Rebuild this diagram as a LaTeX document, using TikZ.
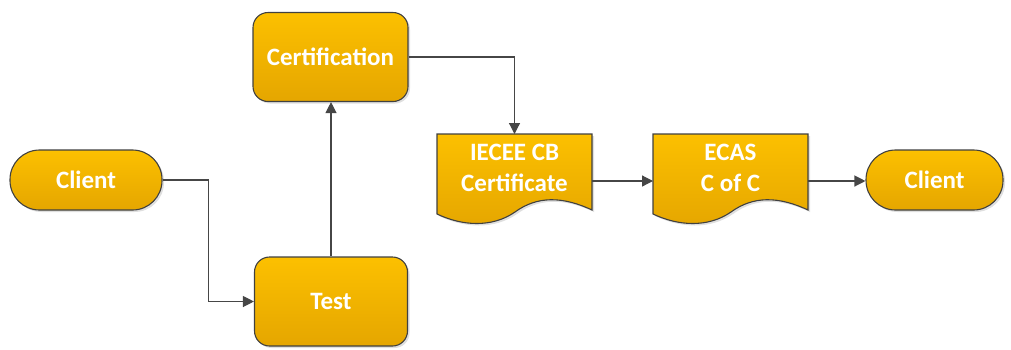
\documentclass[tikz,border=0pt]{standalone}
\usepackage{fontspec}
\setmainfont{Carlito}
\usetikzlibrary{arrows.meta,calc,shadows}
\definecolor{ytop}{RGB}{252,192,0}
\definecolor{ybot}{RGB}{229,166,0}
\definecolor{edge}{RGB}{64,64,64}
\definecolor{conn}{RGB}{70,70,70}
\tikzset{
  boxfill/.style={draw=edge,line width=1.1pt,top color=ytop,bottom color=ybot,
    drop shadow={opacity=0.25,shadow xshift=2pt,shadow yshift=-2pt}},
  txt/.style={text=white,font=\fontsize{25}{31}\selectfont\bfseries,align=center},
  procbox/.style={boxfill,txt,rectangle,rounded corners=15pt,minimum width=153pt,minimum height=89pt},
  termbox/.style={boxfill,txt,rectangle,rounded corners=29.5pt,minimum height=60pt},
  docanchor/.style={rectangle,minimum width=155pt,minimum height=94pt,inner sep=0pt,outer sep=0pt},
  arr/.style={draw=conn,line width=1.2pt,-{Triangle[length=11pt,width=11pt]}},
}
\newcommand\docpath[1]{%
  \path[boxfill] (#1.north west) -- (#1.north east) -- ($(#1.north east)+(0,76)$)
    .. controls ($(#1.north west)+(125,62)$) and ($(#1.north west)+(100,62)$) .. ($(#1.north west)+(78,78)$)
    .. controls ($(#1.north west)+(55,94)$) and ($(#1.north west)+(25,92)$) .. ($(#1.north west)+(0,80)$) -- cycle;}
\begin{document}
\begin{tikzpicture}[x=1pt,y=-1pt]
\useasboundingbox (0,0) rectangle (1011,349);
\node[termbox,minimum width=152pt] (client1) at (86,180) {Client};
\node[procbox] (test) at (331,301.5) {Test};
\node[procbox,minimum width=155pt] (cert) at (330.5,57) {Certification};
\node[docanchor] (iecee) at (514.5,181) {};
\docpath{iecee}
\node[txt] (iecee-t) at (514.5,168) {IECEE CB\\Certificate};
\node[docanchor] (ecas) at (730.5,181) {};
\docpath{ecas}
\node[txt] (ecas-t) at (730.5,168) {ECAS\\C of C};
\node[termbox,minimum width=137pt] (client2) at (934.5,180) {Client};
\draw[arr] (client1.east) -- ++(46,0) |- (test.west);
\draw[arr] (test.north) -- (test.north |- cert.south);
\draw[arr] (cert.east) -| (iecee.north);
\draw[arr] (iecee.east) -- (ecas.west);
\draw[arr] (ecas.east) -- (client2.west |- ecas.east);
\end{tikzpicture}
\end{document}
